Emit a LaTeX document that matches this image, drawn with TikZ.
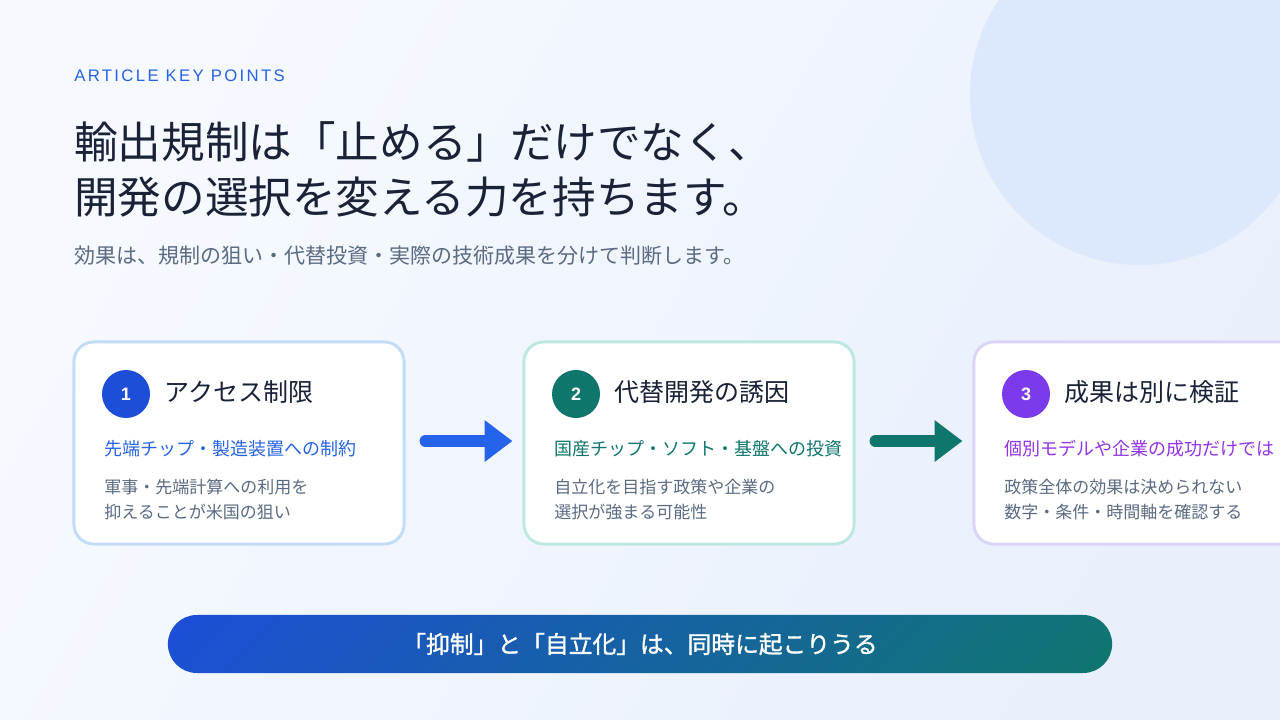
\documentclass[tikz,border=0pt]{standalone}
\usepackage{fontspec}
\setmainfont{Noto Sans CJK JP}
\newfontfamily\kickerfont[LetterSpace=14]{Liberation Sans}
\newfontfamily\numfont{Liberation Sans}
\newfontfamily\bannerfont[FakeBold=1.3]{Noto Sans CJK JP}
\usepackage{tikz}
\usetikzlibrary{arrows.meta, positioning}
\definecolor{bgtop}{HTML}{F6F9FF}
\definecolor{bgbottom}{HTML}{E9F0FC}
\definecolor{bubble}{HTML}{DCE8FB}
\definecolor{titleink}{HTML}{1A2238}
\definecolor{bodyink}{HTML}{5A6B82}
\definecolor{accessblue}{HTML}{2563EB}
\definecolor{accessdot}{HTML}{1D4ED8}
\definecolor{accessrim}{HTML}{C3DCF6}
\definecolor{investteal}{HTML}{0F766E}
\definecolor{investrim}{HTML}{BDE8E0}
\definecolor{verifypurple}{HTML}{9333EA}
\definecolor{verifydot}{HTML}{7C3AED}
\definecolor{verifyrim}{HTML}{DCD4F8}
% corner-to-corner fade for the banner
\pgfdeclareverticalshading{bannerfade}{100bp}{color(0bp)=(investteal); color(14.6bp)=(investteal);
    color(85.4bp)=(accessdot); color(100bp)=(accessdot)}

\begin{document}
\begin{tikzpicture}[x=0.025cm, y=-0.025cm,
    card/.style={draw, line width=2.1pt, fill=white, rounded corners=14pt,
        minimum width=8.25cm, minimum height=5.05cm, inner sep=0pt},
    numdot/.style={circle, minimum size=1.2cm, inner sep=0pt, text=white,
        font=\numfont\bfseries\fontsize{12.8}{15}\selectfont},
    cardhead/.style={anchor=west, inner sep=0pt, text=titleink,
        font=\fontsize{17.8}{21}\selectfont},
    cardaccent/.style={anchor=west, inner sep=0pt, font=\fontsize{12.8}{15}\selectfont},
    cardbody/.style={anchor=west, inner sep=0pt, align=left, text=bodyink,
        font=\fontsize{12.1}{17.8}\selectfont},
    flowarrow/.style={line width=8.5pt, line cap=round,
        -{Triangle[length=19.9pt, width=28.5pt]}},
]
    % ── background ───────────────────────────────────────────────────
    \useasboundingbox (0,0) rectangle (1280,720);
    \clip (0,0) rectangle (1280,720);
    \shade[left color=bgtop, right color=bgbottom, shading angle=60]
        (0,0) rectangle (1280,720);
    \fill[bubble] (1140,95) circle (4.25cm);

    % ── heading ──────────────────────────────────────────────────────
    \node[anchor=west, inner sep=0pt, text=accessblue,
        font=\kickerfont\fontsize{11.9}{14}\selectfont] (kicker) at (74,76) {ARTICLE KEY POINTS};
    \node[anchor=west, inner sep=0pt, text=titleink,
        font=\fontsize{31}{37}\selectfont] (title1) at (74,142) {輸出規制は「止める」だけでなく、};
    \node[anchor=west, inner sep=0pt, text=titleink,
        font=\fontsize{31}{37}\selectfont] (title2) at (74,197) {開発の選択を変える力を持ちます。};
    \node[anchor=west, inner sep=0pt, text=bodyink,
        font=\fontsize{14.95}{18}\selectfont] (lead) at (74,256)
        {効果は、規制の狙い・代替投資・実際の技術成果を分けて判断します。};

    % ── (1) access ───────────────────────────────────────────────────
    \begin{scope}[shift={(74,342)}]
        \node[card, draw=accessrim] (card1) at (165,101) {};
        \node[numdot, fill=accessdot] (num1) at (52,52) {1};
        \node[cardhead] (head1) at (90,50) {アクセス制限};
        \node[cardaccent, text=accessblue] (accent1) at (30,107) {先端チップ・製造装置への制約};
        \node[cardbody] (body1) at (30,157.5) {軍事・先端計算への利用を\\抑えることが米国の狙い};
    \end{scope}

    % ── (2) substitution ─────────────────────────────────────────────
    \begin{scope}[shift={(524,342)}]
        \node[card, draw=investrim] (card2) at (165,101) {};
        \node[numdot, fill=investteal] (num2) at (52,52) {2};
        \node[cardhead] (head2) at (90,50) {代替開発の誘因};
        \node[cardaccent, text=investteal] (accent2) at (30,107) {国産チップ・ソフト・基盤への投資};
        \node[cardbody] (body2) at (30,157.5) {自立化を目指す政策や企業の\\選択が強まる可能性};
    \end{scope}

    % ── (3) verification ─────────────────────────────────────────────
    \begin{scope}[shift={(974,342)}]
        \node[card, draw=verifyrim] (card3) at (165,101) {};
        \node[numdot, fill=verifydot] (num3) at (52,52) {3};
        \node[cardhead] (head3) at (90,50) {成果は別に検証};
        \node[cardaccent, text=verifypurple] (accent3) at (30,107) {個別モデルや企業の成功だけでは};
        \node[cardbody] (body3) at (30,157.5) {政策全体の効果は決められない\\数字・条件・時間軸を確認する};
    \end{scope}

    % arrows between cards
    \draw[flowarrow, accessblue] ([xshift=0.5cm, yshift=1.4pt]card1.east) -- ([xshift=-0.25cm, yshift=1.4pt]card2.west);
    \draw[flowarrow, investteal] ([xshift=0.5cm, yshift=1.4pt]card2.east) -- ([xshift=-0.25cm, yshift=1.4pt]card3.west);

    % ── takeaway banner ──────────────────────────────────────────────
    \node[rounded corners=20.6pt, minimum width=23.6cm, minimum height=1.45cm,
        shade, shading=bannerfade, shading angle=45,
        text=white, font=\bannerfont\fontsize{16.9}{20}\selectfont] (takeaway) at (640,644)
        {「抑制」と「自立化」は、同時に起こりうる};
\end{tikzpicture}
\end{document}
